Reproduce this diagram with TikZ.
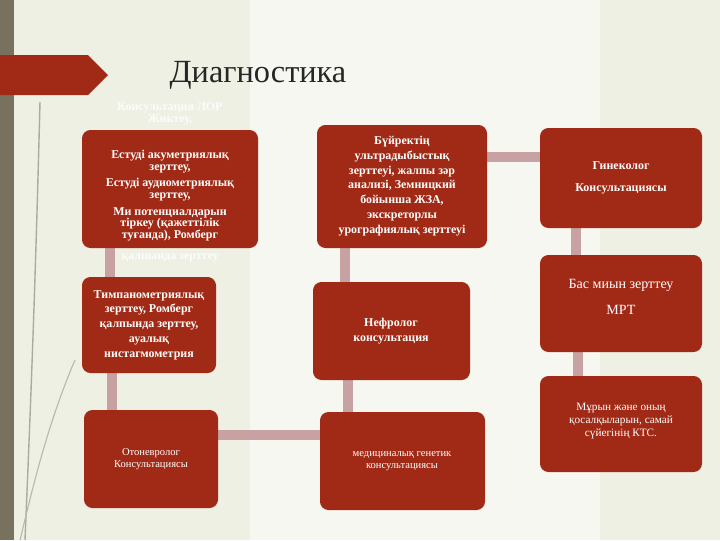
\documentclass[tikz,border=0pt]{standalone}
\usepackage{fontspec}
\setmainfont{Liberation Serif}
\usetikzlibrary{positioning}
\definecolor{boxred}{HTML}{A12A16}
\definecolor{link}{HTML}{C8A2A2}
\definecolor{bar}{HTML}{77715E}
\definecolor{bg}{HTML}{EEF0E4}
\tikzset{
  card/.style={fill=boxred, rounded corners=6pt, draw=none},
  lbl/.style={text=white, align=center, font=\bfseries\fontsize{8.5}{10.5}\selectfont},
  lbl2/.style={text=white, align=center, font=\fontsize{7.5}{9}\selectfont},
  conn/.style={draw=link, line width=7pt}
}
\begin{document}
\begin{tikzpicture}[x=0.025cm,y=-0.025cm]
\fill[bg] (0,0) rectangle (720,540);
\useasboundingbox (0,0) rectangle (720,540);
\fill[white,opacity=0.5] (250,0) rectangle (600,540);
\fill[bar] (0,0) rectangle (14,540);
\fill[boxred] (0,55) -- (88,55) -- (108,75) -- (88,95) -- (0,95) -- cycle;
\node[font=\fontsize{23}{26}\selectfont, text=black!85] (title) at (258,75) {Диагностика};
% decorative grass lines
\draw[bar!60, line width=1pt] (40,102) .. controls (35,300) and (30,420) .. (25,540);
\draw[bar!50, line width=0.8pt] (75,360) .. controls (45,430) and (30,500) .. (20,540);
% connectors (coordinates)
\coordinate (ab) at (110,248); \coordinate (ba) at (110,277);
\coordinate (bc) at (112,373); \coordinate (cb) at (112,410);
\coordinate (cf) at (218,435); \coordinate (fc) at (320,435);
\coordinate (fe) at (348,412); \coordinate (ef) at (348,380);
\coordinate (ed) at (345,282); \coordinate (de) at (345,248);
\coordinate (dg) at (487,157); \coordinate (gd) at (540,157);
\coordinate (gh) at (576,228); \coordinate (hg) at (576,255);
\coordinate (hi) at (578,352); \coordinate (ih) at (578,376);
\draw[conn] (ab)--(ba); \draw[conn] (bc)--(cb); \draw[conn] (cf)--(fc);
\draw[conn] (fe)--(ef); \draw[conn] (ed)--(de); \draw[conn] (dg)--(gd);
\draw[conn] (gh)--(hg); \draw[conn] (hi)--(ih);
% boxes
\fill[card] (82,130) rectangle (258,248);
\fill[card] (82,277) rectangle (216,373);
\fill[card] (84,410) rectangle (218,508);
\fill[card] (317,125) rectangle (487,248);
\fill[card] (313,282) rectangle (470,380);
\fill[card] (320,412) rectangle (485,510);
\fill[card] (540,128) rectangle (702,228);
\fill[card] (540,255) rectangle (702,352);
\fill[card] (540,376) rectangle (702,472);
% texts
\node[lbl, text=white!85!bg] (a0) at (170,114) {Консультация ЛОР\\[-2pt]Жиктеу,};
\node[lbl] (a) at (170,196) {Естуді акуметриялық\\[-2pt] зерттеу,\\[1pt] Естуді аудиометриялық\\[-2pt] зерттеу,\\[1pt] Ми потенциалдарын\\[-2pt] тіркеу (қажеттілік\\[-2pt] туғанда), Ромберг};
\node[lbl, text=white!85!bg] (a1) at (170,258) {қалпында зерттеу};
\node[lbl] (b) at (149,325) {Тимпанометриялық\\ зерттеу, Ромберг\\ қалпында зерттеу,\\ ауалық\\ нистагмометрия};
\node[lbl2] (c) at (151,459) {Отоневролог\\ Консультациясы};
\node[lbl] (d) at (402,186) {Бүйректің\\ ультрадыбыстық\\ зерттеуі, жалпы зәр\\ анализі, Земницкий\\ бойынша ЖЗА,\\ экскреторлы\\ урографиялық зерттеуі};
\node[lbl] (e) at (391,331) {Нефролог\\ консультация};
\node[lbl2] (f) at (402,461) {медициналық генетик\\ консультациясы};
\node[lbl, align=center, font=\bfseries\fontsize{8.5}{16}\selectfont] (g) at (621,178) {Гинеколог\\ Консультациясы};
\node[lbl2, font=\fontsize{10}{19}\selectfont] (h) at (621,297) {Бас миын зерттеу\\ МРТ};
\node[lbl2, font=\fontsize{8}{9.5}\selectfont] (i) at (621,421) {Мұрын және оның\\ қосалқыларын, самай\\ сүйегінің КТС.};
\end{tikzpicture}
\end{document}
